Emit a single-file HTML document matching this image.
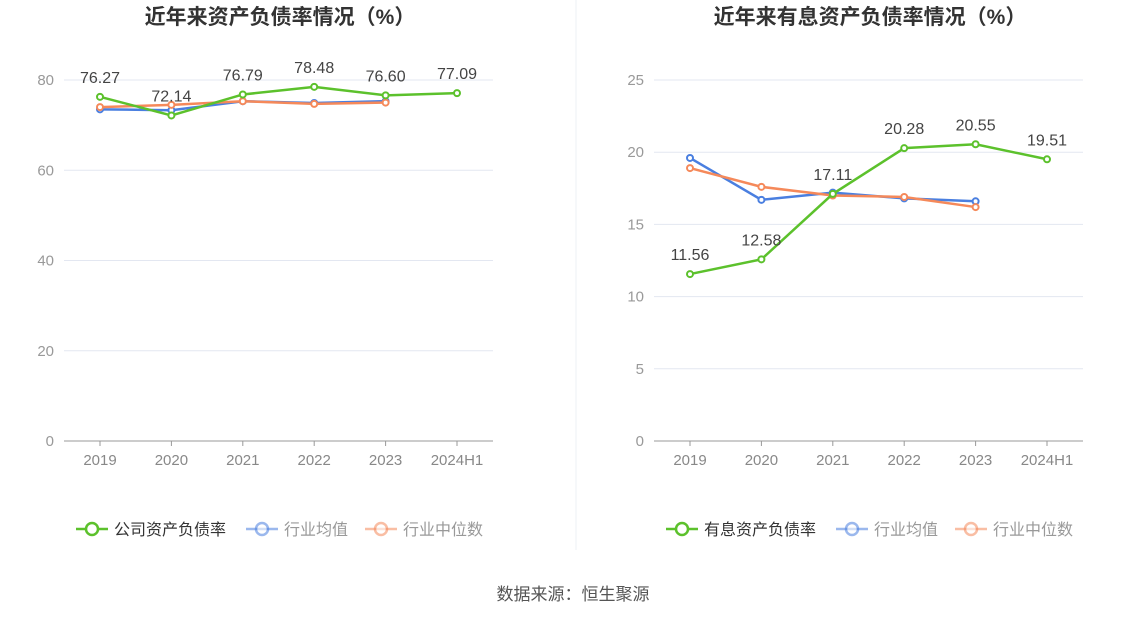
<!DOCTYPE html>
<html><head><meta charset="utf-8"><style>
body{margin:0;width:1147px;height:619px;background:#fff;overflow:hidden;font-family:"Liberation Sans","Noto Sans CJK SC",sans-serif;}
</style></head><body>
<svg id="svg" width="1147" height="619" xmlns="http://www.w3.org/2000/svg" style="font-family:'Liberation Sans','Noto Sans CJK SC',sans-serif">
<line x1="576" y1="0" x2="576" y2="550" stroke="#eef0f4"/>
<text x="573" y="600" text-anchor="middle" font-size="17" fill="#555">数据来源：恒生聚源</text>
</svg>
<script>
const categories=["2019","2020","2021","2022","2023","2024H1"];
const leftCompany=[76.27,72.14,76.79,78.48,76.60,77.09];
const leftAvg=[73.5,73.3,75.3,74.9,75.3];
const leftMedian=[74.0,74.5,75.3,74.7,75.0];
const leftTicks=[0,20,40,60,80];
const rightCompany=[11.56,12.58,17.11,20.28,20.55,19.51];
const rightAvg=[19.6,16.7,17.2,16.8,16.6];
const rightMedian=[18.9,17.6,17.0,16.9,16.2];
const rightTicks=[0,5,10,15,20,25];
const NS="http://www.w3.org/2000/svg";
const svg=document.getElementById('svg');
function mk(tag,attrs,parent){const e=document.createElementNS(NS,tag);for(const k in attrs)e.setAttribute(k,attrs[k]);(parent||svg).appendChild(e);return e;}
const G="#5cc12c",B="#4a7fe0",O="#f5895a";
function panel(ox,title,company,avg,median,ticks,max,legendName,key){
  const g=mk('g',{});
  
  
  const x0=ox+64,x1=ox+493,yb=441,yt=80;
  const xs=i=>ox+100+i*71.4;
  const ys=v=>yb-(v/max)*(yb-yt);
  const t=mk('text',{x:ox+280,y:24,'text-anchor':'middle','font-size':21,'font-weight':'bold',fill:'#333'},g);
  t.textContent=title;
  
  
  ticks.forEach(v=>{
    if(v>0){const l=mk('line',{x1:x0,x2:x1,y1:ys(v),y2:ys(v),stroke:'#e3e7f1'},g);
      
      }
    const tx=mk('text',{x:ox+54,y:ys(v)+5,'text-anchor':'end','font-size':15,fill:'#999'},g);
    tx.textContent=v;
    
    
  });
  const ax=mk('line',{x1:x0,x2:x1,y1:yb,y2:yb,stroke:'#999'},g);
  
  
  categories.forEach((c,i)=>{
    mk('line',{x1:xs(i),x2:xs(i),y1:yb,y2:yb+5,stroke:'#999'},g);
    const tx=mk('text',{x:xs(i),y:465,'text-anchor':'middle','font-size':15,fill:'#888'},g);
    tx.textContent=c;
    
    
  });
  function series(vals,col,name,labels){
    const p=mk('polyline',{points:vals.map((v,i)=>xs(i)+','+ys(v)).join(' '),fill:'none',stroke:col,'stroke-width':2.5},g);
    
    
    vals.forEach((v,i)=>{
      const c=mk('circle',{cx:xs(i),cy:ys(v),r:3,fill:'#fff',stroke:col,'stroke-width':2},g);
      
      
      if(labels){const tx=mk('text',{x:xs(i),y:ys(v)-14,'text-anchor':'middle','font-size':16,fill:'#444'},g);
        tx.textContent=v.toFixed(2);
        
        }
    });
  }
  series(avg,B,'industry-average');
  series(median,O,'industry-median');
  series(company,G,'company',true);
  const leg=[[legendName,G,ox+76],['行业均值',B,ox+246],['行业中位数',O,ox+365]];
  leg.forEach(([n,col,lx],k)=>{
    const lg=mk('g',{},g);
    
    
    const op=k==0?1:0.55;
    mk('line',{x1:lx,x2:lx+32,y1:529,y2:529,stroke:col,'stroke-width':2.5,opacity:op},lg);
    mk('circle',{cx:lx+16,cy:529,r:6,fill:'#fff',stroke:col,'stroke-width':2.5,opacity:op},lg);
    const tx=mk('text',{x:lx+38,y:535,'font-size':16,fill:k==0?'#333':'#999'},lg);
    tx.textContent=n;
  });
}
panel(0,'近年来资产负债率情况（%）',leftCompany,leftAvg,leftMedian,leftTicks,80,'公司资产负债率','left');
panel(590,'近年来有息资产负债率情况（%）',rightCompany,rightAvg,rightMedian,rightTicks,25,'有息资产负债率','right');
</script>
</body></html>
